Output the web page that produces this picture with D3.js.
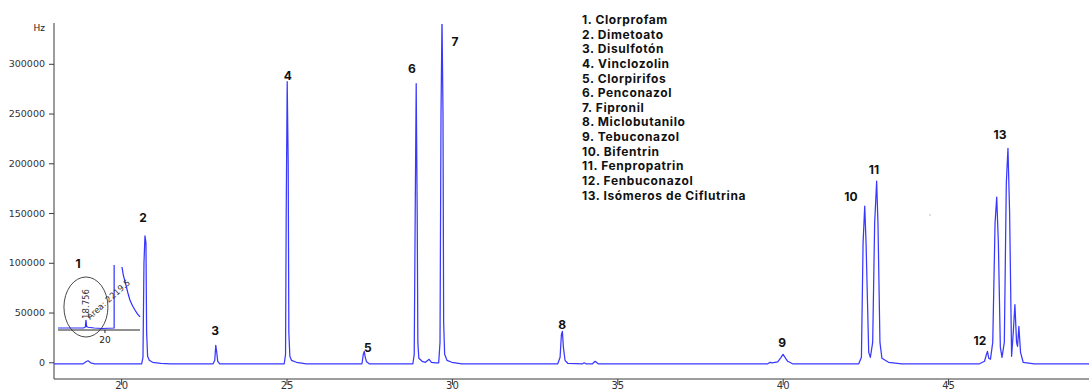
<!DOCTYPE html>
<html>
<head>
<meta charset="utf-8">
<script src="https://cdn.jsdelivr.net/npm/d3@7"></script>
<style>
  html, body { margin: 0; padding: 0; background: #fff; }
  svg { display: block; }
</style>
</head>
<body>
<div id="chart"></div>
<script>
// ---------------- DATA ----------------
// Legend entries (compound names)
const compounds = [
  "1. Clorprofam", "2. Dimetoato", "3. Disulfotón", "4. Vinclozolin",
  "5. Clorpirifos", "6. Penconazol", "7. Fipronil", "8. Miclobutanilo",
  "9. Tebuconazol", "10. Bifentrin", "11. Fenpropatrin", "12. Fenbuconazol",
  "13. Isómeros de Ciflutrina"
];
// Peak label numbers, time (min) and signal (Hz) where each label sits
const peakLabels = ["1", "2", "3", "4", "5", "6", "7", "8", "9", "10", "11", "12", "13"];
const peakLabelTimes = [18.70, 20.66, 22.84, 25.04, 27.46, 28.79, 30.09, 33.33, 39.98, 42.06, 42.76, 45.96, 46.57];
const peakLabelValues = [94800, 141000, 27400, 283700, 10300, 290700, 317900, 33400, 15400, 162100, 189200, 17400, 224400];

// Chromatogram trace: [time (min), signal (Hz)]
const traceTimes = [
  17.97, 18.85, 18.95, 19.0, 19.08, 19.2,
  20.62, 20.66, 20.69, 20.72, 20.75, 20.77, 20.8, 20.85, 20.95, 21.2, 21.5,
  22.78, 22.83, 22.86, 22.89, 22.92, 22.98,
  24.93, 24.97, 24.99, 25.02, 25.05, 25.07, 25.1, 25.15, 25.3, 25.6,
  27.28, 27.32, 27.35, 27.38, 27.42, 27.5,
  28.82, 28.86, 28.89, 28.92, 28.95, 28.97, 29.0, 29.1, 29.2, 29.31, 29.38, 29.5, 29.6,
  29.64, 29.67, 29.7, 29.73, 29.75, 29.78, 29.85, 30.0, 30.3,
  33.2, 33.27, 33.31, 33.34, 33.37, 33.42, 33.5,
  33.95, 34.0, 34.05, 34.25, 34.33, 34.42,
  39.55, 39.62, 39.68, 39.85, 39.95, 40.01, 40.07, 40.15, 40.3,
  42.3, 42.38, 42.43, 42.48, 42.52, 42.6, 42.65, 42.72, 42.78, 42.84, 42.88, 42.94, 43.0, 43.2, 43.6,
  45.95, 46.1, 46.16, 46.19, 46.23, 46.28, 46.35, 46.42, 46.47, 46.52, 46.58, 46.63, 46.7, 46.76,
  46.81, 46.86, 46.92, 46.97, 47.02, 47.07, 47.1, 47.14, 47.19, 47.27, 47.6, 49.26
];
const traceValues = [
  -1500, -1500, 800, 1500, -500, -1500,
  -1500, 5000, 100000, 127000, 120000, 30000, 6000, 2000, 0, -1000, -1500,
  -1500, 2000, 17000, 10000, 1000, -1500,
  -1500, 8000, 150000, 282000, 200000, 30000, 6000, 2000, 0, -1500,
  -1500, 8000, 11000, 5000, 500, -1500,
  -1500, 8000, 150000, 280000, 150000, 20000, 4000, 1000, 0, 3000, 0, -500, -500,
  20000, 250000, 345000, 250000, 40000, 8000, 2000, 0, -1500,
  -1500, 5000, 28000, 31000, 15000, 2000, -1000,
  -1500, -500, -1500, -1500, 1000, -1500,
  -1500, 0, -500, 500, 5000, 8000, 5000, 1000, -1500,
  -1500, 5000, 120000, 157000, 120000, 10000, 5000, 20000, 140000, 182000, 140000, 20000, 4000, 0, -1500,
  -1500, 1000, 8000, 11000, 4000, 3000, 20000, 140000, 166000, 120000, 15000, 5000, 20000, 180000,
  215000, 150000, 6000, 30000, 58000, 20000, 16000, 36000, 10000, 0, -1500, -1500
];

// Inset (zoom on peak 1): time (min) and relative signal; null = gap
const insetTimes = [16.93, 18.6, 18.72, 18.756, 18.8, 18.9, 19.3, 19.8, 20.6, 20.6, null,
  21.11, 21.2, 21.37, 21.5, 21.63, 21.8, 21.96, 22.12, 22.29];
const insetValues = [0, 0, 40, 320, 60, 30, 0, -20, 0, 2500, null,
  2420, 2100, 1706, 1390, 1111, 880, 714, 560, 437];
const insetTickLabel = "20";
const insetPeakLabel = "18.756";
const insetAreaLabel = "Area: 2219.5";

// Axis ticks
const xMajorTicks = [20, 25, 30, 35, 40, 45];
const yMajorTicks = [0, 50000, 100000, 150000, 200000, 250000, 300000];
const yUnit = "Hz";

// ---------------- CHART ----------------
const W = 1089, H = 390;
const svg = d3.select("#chart").append("svg").attr("width", W).attr("height", H);
svg.append("rect").attr("width", W).attr("height", H).attr("fill", "#fff");

const x = d3.scaleLinear().domain([17.97, 49.26]).range([54, 1089]);
const y = d3.scaleLinear().domain([-16800, 340000]).range([379, 24]);

svg.append("defs").append("clipPath").attr("id", "plotclip")
  .append("rect").attr("x", 54).attr("y", 24).attr("width", 1035).attr("height", 355);

const axisColor = "#3a3a3a";
const tickFont = "DejaVu Sans, Verdana, sans-serif";

// y axis
const yAxisG = svg.append("g").attr("transform", "translate(54,0)");
yAxisG.call(d3.axisLeft(y).tickValues(d3.range(-10000, 340001, 10000)).tickSize(2.5).tickFormat(""))
  .call(g => g.select(".domain").remove());
yAxisG.call(d3.axisLeft(y).tickValues(yMajorTicks).tickSize(5).tickPadding(4).tickFormat(d3.format("d")))
  .call(g => g.select(".domain").remove());
yAxisG.selectAll("line").attr("stroke", axisColor);
yAxisG.selectAll("text").attr("font-family", tickFont).attr("font-size", 9.5).attr("fill", "#333");
yAxisG.append("line").attr("x1", 0).attr("x2", 0).attr("y1", 23).attr("y2", 379).attr("stroke", axisColor);
svg.append("text").attr("x", 45).attr("y", 31).attr("text-anchor", "end")
  .attr("font-family", tickFont).attr("font-size", 9).attr("fill", "#222").text(yUnit);

// x axis
const xAxisG = svg.append("g").attr("transform", "translate(0,379)");
xAxisG.call(d3.axisBottom(x).tickValues(d3.range(18, 50, 1)).tickSize(4).tickFormat(""))
  .call(g => g.select(".domain").remove());
xAxisG.call(d3.axisBottom(x).tickValues(xMajorTicks).tickSize(6).tickPadding(-3).tickFormat(d3.format("d")))
  .call(g => g.select(".domain").remove());
xAxisG.selectAll("line").attr("stroke", axisColor);
xAxisG.selectAll("text").attr("font-family", tickFont).attr("font-size", 10).attr("fill", "#333");
xAxisG.append("line").attr("x1", 54).attr("x2", 1089).attr("y1", 0).attr("y2", 0).attr("stroke", axisColor);

// trace
const trace = traceTimes.map((t, i) => [t, traceValues[i]]);
const line = d3.line().x(d => x(d[0])).y(d => y(d[1]));
svg.append("path").datum(trace).attr("d", line).attr("clip-path", "url(#plotclip)")
  .attr("fill", "none").attr("stroke", "#3838ff").attr("stroke-width", 1.25)
  .attr("stroke-linejoin", "round");

// peak labels
const labelFont = "Inter, 'Open Sans', sans-serif";
svg.append("g").selectAll("text").data(peakLabels).join("text")
  .attr("x", (d, i) => x(peakLabelTimes[i]))
  .attr("y", (d, i) => y(peakLabelValues[i]))
  .attr("text-anchor", "middle")
  .attr("font-family", labelFont).attr("font-weight", 700).attr("font-size", 12)
  .attr("fill", "#111").text(d => d);

// legend
svg.append("g").selectAll("text").data(compounds).join("text")
  .attr("x", 582).attr("y", (d, i) => 24 + i * 14.64)
  .attr("font-family", labelFont).attr("font-weight", 700).attr("font-size", 12)
  .attr("letter-spacing", 0.6)
  .attr("fill", "#111").text(d => d);

// inset
const ix = d3.scaleLinear().domain([16.93, 22.29]).range([58, 140]);
const iy = d3.scaleLinear().domain([0, 2500]).range([328, 265]);
const inset = svg.append("g");
inset.append("line").attr("x1", 58).attr("x2", 140).attr("y1", 330).attr("y2", 330)
  .attr("stroke", "#222").attr("stroke-width", 1);
inset.append("line").attr("x1", ix(20)).attr("x2", ix(20)).attr("y1", 330).attr("y2", 333)
  .attr("stroke", "#222");
inset.append("text").attr("x", ix(20)).attr("y", 343).attr("text-anchor", "middle")
  .attr("font-family", tickFont).attr("font-size", 9).attr("fill", "#222").text(insetTickLabel);
const insetData = insetTimes.map((t, i) => [t, insetValues[i]]);
inset.append("path").datum(insetData)
  .attr("d", d3.line().defined(d => d[0] !== null).x(d => ix(d[0])).y(d => iy(d[1])))
  .attr("fill", "none").attr("stroke", "#2f2fff").attr("stroke-width", 1.2);
inset.append("ellipse").attr("cx", ix(18.756)).attr("cy", 307).attr("rx", 22).attr("ry", 30)
  .attr("fill", "none").attr("stroke", "#333").attr("stroke-width", 0.9);
inset.append("text").attr("transform", `translate(${ix(18.756) + 3},304) rotate(-90)`)
  .attr("text-anchor", "middle").attr("font-family", tickFont).attr("font-size", 8.5)
  .attr("fill", "#333").text(insetPeakLabel);
inset.append("text").attr("transform", `translate(${ix(18.756) + 4},320) rotate(-42)`)
  .attr("font-family", tickFont).attr("font-size", 8.5)
  .attr("fill", "#333").text(insetAreaLabel);

// tiny artifact dot
svg.append("circle").attr("cx", 930).attr("cy", 215).attr("r", 0.7).attr("fill", "#9aa");
</script>
</body>
</html>
